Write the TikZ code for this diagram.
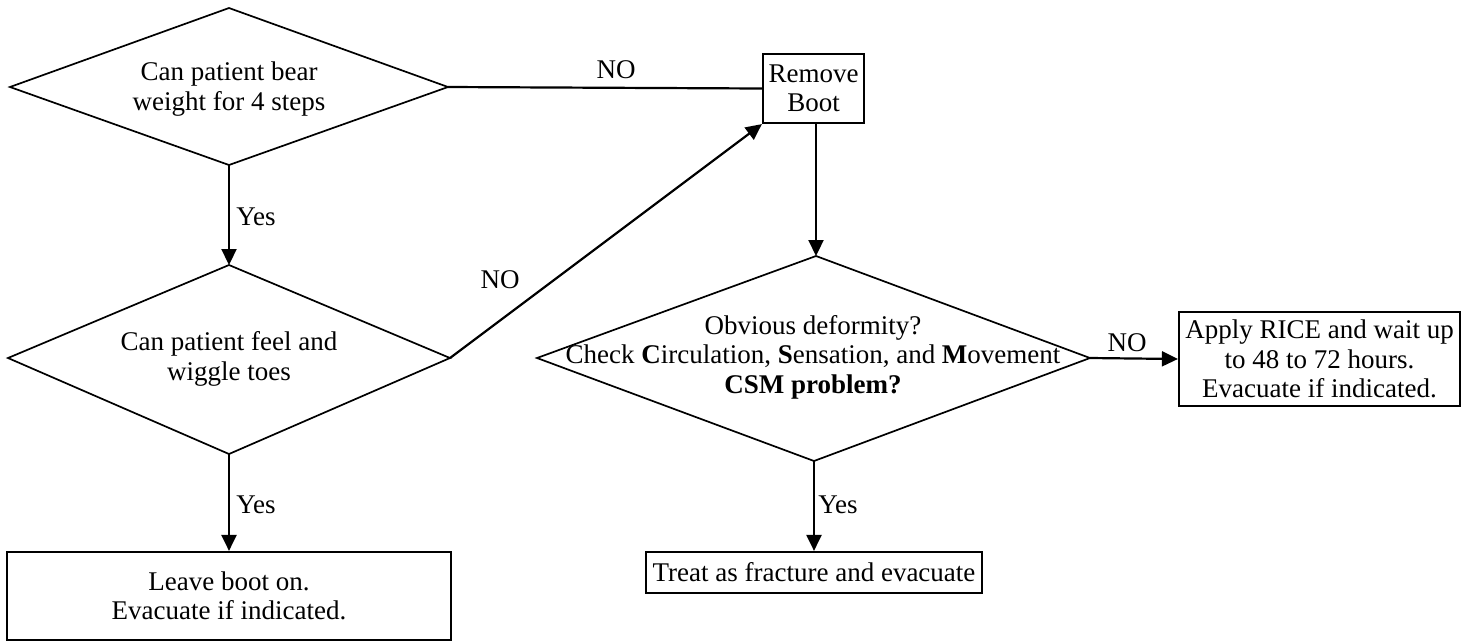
\documentclass[tikz,border=0pt]{standalone}
\usepackage{fontspec}
\setmainfont{Liberation Serif}
\usetikzlibrary{arrows.meta}
\begin{document}
\begin{tikzpicture}[x=1pt,y=-1pt,
  font=\fontsize{27}{29.5}\selectfont,
  dia/.style={line width=1.7pt, line join=miter},
  box/.style={draw, line width=2.2pt, inner sep=0pt, align=center},
  txt/.style={inner sep=0pt, align=center},
  conn/.style={line width=2.2pt},
  arr/.style={line width=2.2pt, -{Triangle[length=16pt,width=15pt]}},
  lbl/.style={inner sep=0pt}]
\useasboundingbox (0,0) rectangle (1471,641);
% diamond 1
\coordinate (d1l) at (10,87);
\coordinate (d1t) at (229,8);
\coordinate (d1r) at (448,87);
\coordinate (d1b) at (229,165);
\draw[dia] (d1l) -- (d1t) -- (d1r) -- (d1b) -- cycle;
\node[txt] (q1) at (229,89) {Can patient bear\\weight for 4 steps};
% diamond 2
\coordinate (d2l) at (8,358);
\coordinate (d2t) at (229,265);
\coordinate (d2r) at (450,358);
\coordinate (d2b) at (229,454);
\draw[dia] (d2l) -- (d2t) -- (d2r) -- (d2b) -- cycle;
\node[txt] (q2) at (229,359) {Can patient feel and\\wiggle toes};
% diamond 3
\coordinate (d3l) at (537,358);
\coordinate (d3t) at (816,256);
\coordinate (d3r) at (1090,358);
\coordinate (d3b) at (814,461);
\draw[dia] (d3l) -- (d3t) -- (d3r) -- (d3b) -- cycle;
\node[txt] (q3) at (813,357) {Obvious deformity?\\Check \textbf{C}irculation, \textbf{S}ensation, and \textbf{M}ovement\\\textbf{CSM problem?}};
% boxes
\node[box, minimum width=101pt, minimum height=69pt] (rb) at (813.5,88.5) {Remove\\Boot};
\node[box, minimum width=281pt, minimum height=94pt] (rice) at (1319.5,359) {Apply RICE and wait up\\to 48 to 72 hours.\\Evacuate if indicated.};
\node[box, minimum width=336pt, minimum height=41pt] (treat) at (814,572.5) {Treat as fracture and evacuate};
\node[box, minimum width=444pt, minimum height=88pt] (leave) at (229,596) {Leave boot on.\\Evacuate if indicated.};
% connectors
\draw[conn] (d1r) -- (rb.west);
\draw[arr] (d2r) -- (rb.south west);
\draw[arr] (rb.south -| d3t) -- (d3t);
\draw[arr] (d1b) -- (d2t);
\draw[arr] (d2b) -- (leave.north);
\draw[arr] (d3b) -- (treat.north);
\draw[arr] (d3r) -- (rice.west);
% labels
\node[lbl] (no1) at (616,70) {NO};
\node[lbl] (no2) at (500,280) {NO};
\node[lbl] (no3) at (1127,343) {NO};
\node[lbl] (yes1) at (256,217) {Yes};
\node[lbl] (yes2) at (256,505) {Yes};
\node[lbl] (yes3) at (838,505) {Yes};
\end{tikzpicture}
\end{document}
